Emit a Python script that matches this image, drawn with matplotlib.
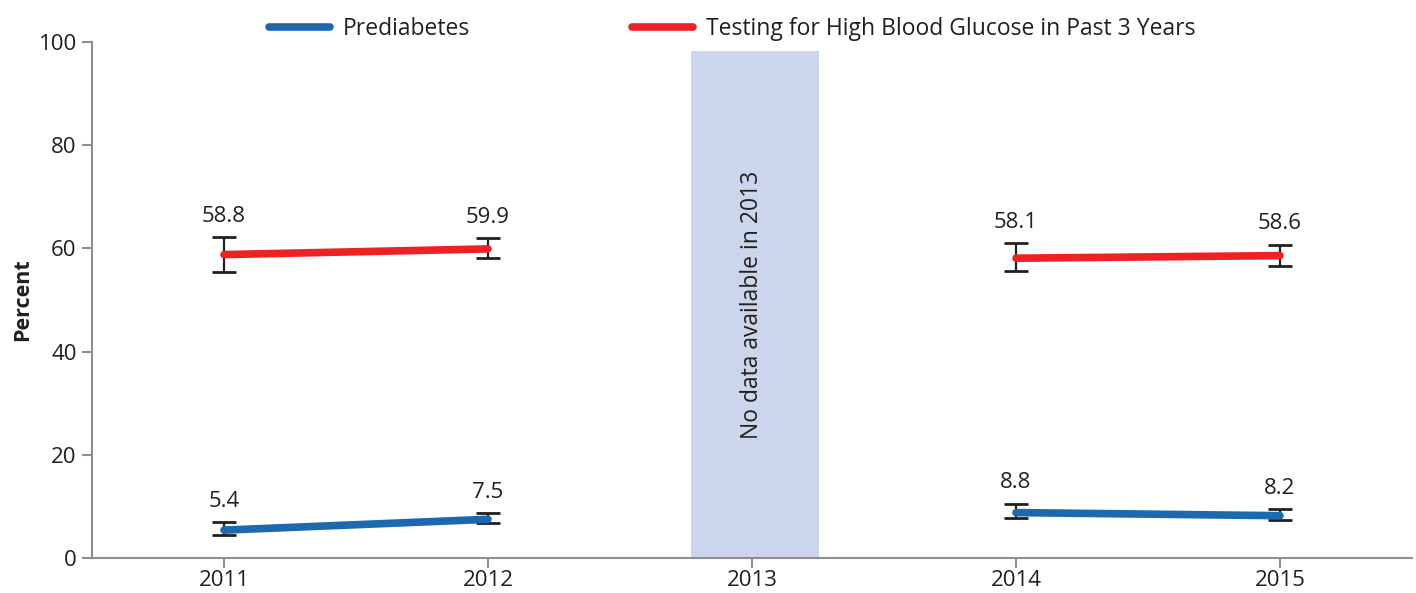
import numpy as np
import matplotlib
matplotlib.use("Agg")
import matplotlib.pyplot as plt

years = [2011, 2012, 2014, 2015]
tick_years = [2011, 2012, 2013, 2014, 2015]

# prediabetes (%), with 95% CI
pre = [5.4, 7.5, 8.8, 8.2]
pre_lo = [4.5, 6.8, 7.8, 7.4]
pre_hi = [7.0, 8.7, 10.5, 9.5]

# tested for high blood glucose in past 3 years (%)
test = [58.8, 59.9, 58.1, 58.6]
test_lo = [55.4, 58.1, 55.6, 56.6]
test_hi = [62.2, 62.0, 61.0, 60.7]

blue = "#1c69b0"
red = "#ee2224"
grey = "#8e8e93"
txt = "#231f20"

plt.rcParams["font.family"] = ["Open Sans", "DejaVu Sans"]

fig = plt.figure(figsize=(14.16, 5.93), dpi=100)
ax = fig.add_axes([92 / 1416, 35 / 593, 1320 / 1416, 516 / 593])

# gap year shading
ax.axvspan(2013 - 0.232, 2013 + 0.255, ymin=0, ymax=0.983, color="#cbd5eb", lw=0, zorder=0)
ax.text(2013, 49, "No data available in 2013", rotation=90, ha="center", va="center",
        fontsize=16.5, color=txt)

def draw(vals, lo, hi, color, label):
    for seg in (slice(0, 2), slice(2, 4)):
        ax.plot(years[seg], vals[seg], color=color, lw=5.5, solid_capstyle="round",
                zorder=3, label=label if seg.start == 0 else None)
    yerr = [np.array(vals) - np.array(lo), np.array(hi) - np.array(vals)]
    ax.errorbar(years, vals, yerr=yerr, fmt="none", ecolor=txt, elinewidth=1.6,
                capsize=8.5, capthick=2, zorder=2)
    for x, v, h in zip(years, vals, hi):
        ax.annotate(f"{v:.1f}", (x, h), xytext=(0, 15), textcoords="offset points",
                    ha="center", va="center", fontsize=16, color=txt)

draw(pre, pre_lo, pre_hi, blue, "Prediabetes")
draw(test, test_lo, test_hi, red, "Testing for High Blood Glucose in Past 3 Years")

ax.set_xlim(2010.5, 2015.5)
ax.set_ylim(0, 100)
ax.set_xticks(tick_years)
ax.set_yticks([0, 20, 40, 60, 80, 100])
ax.set_ylabel("Percent", fontsize=15.5, fontweight="bold", color=txt, labelpad=4)

for s in ["top", "right"]:
    ax.spines[s].set_visible(False)
for s in ["left", "bottom"]:
    ax.spines[s].set_color(grey)
    ax.spines[s].set_linewidth(1.5)
ax.tick_params(axis="both", colors=grey, width=1.5, labelcolor=txt, labelsize=16)
ax.tick_params(axis="x", length=7, pad=2)
ax.tick_params(axis="y", length=7, pad=4)

ax.legend(loc="lower center", bbox_to_anchor=(0.485, 0.985), ncol=2, frameon=False,
          fontsize=16.5, handlelength=2.65, columnspacing=7.1, handletextpad=0.55,
          labelcolor=txt, borderaxespad=0)

fig.savefig("out.png", dpi=100)
